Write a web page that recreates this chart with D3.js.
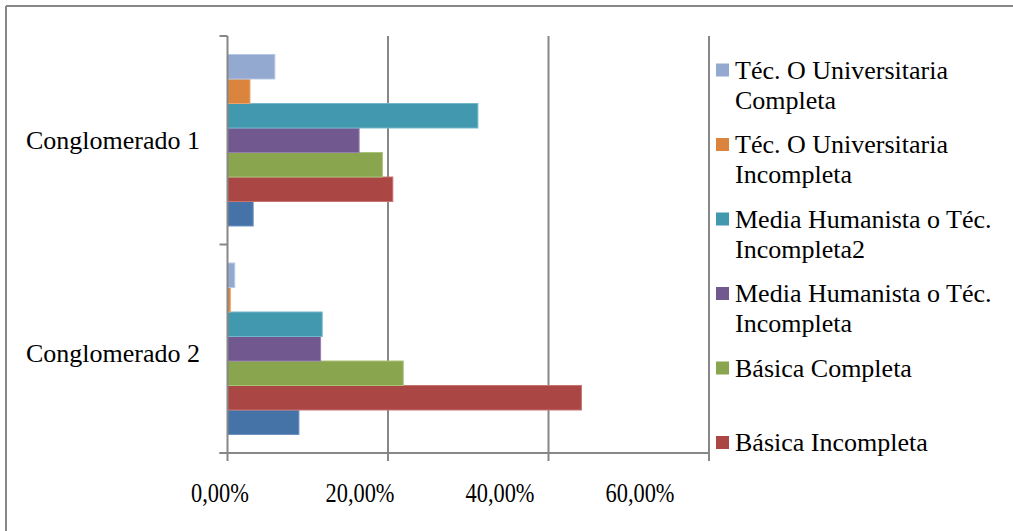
<!DOCTYPE html>
<html>
<head>
<meta charset="utf-8">
<script src="https://cdn.jsdelivr.net/npm/d3@7"></script>
<style>
  html, body { margin: 0; padding: 0; background: #fff; }
  svg { display: block; }
  text { font-family: "Liberation Serif", "Times New Roman", serif; fill: #000; }
</style>
</head>
<body>
<svg id="chart" width="1013" height="531"></svg>
<script>
// ---- data ----
const categories = ["Conglomerado 1", "Conglomerado 2"];
const seriesNames = [
  "Sin Estudios",
  "Básica Incompleta",
  "Básica Completa",
  "Media Humanista o Téc. Incompleta",
  "Media Humanista o Téc. Incompleta2",
  "Téc. O Universitaria Incompleta",
  "Téc. O Universitaria Completa"
];
const sinEstudios       = [0.032, 0.089];
const basicaIncompleta  = [0.206, 0.441];
const basicaCompleta    = [0.193, 0.219];
const mediaIncompleta   = [0.164, 0.116];
const mediaIncompleta2  = [0.312, 0.118];
const tecIncompleta     = [0.028, 0.0035];
const tecCompleta       = [0.059, 0.009];
const seriesValues = [sinEstudios, basicaIncompleta, basicaCompleta, mediaIncompleta,
                      mediaIncompleta2, tecIncompleta, tecCompleta];
const tickValues = [0, 0.2, 0.4, 0.6];
const tickLabels = ["0,00%", "20,00%", "40,00%", "60,00%"];
// legend (shown top to bottom; first series falls outside the visible legend)
const legendSeries = [6, 5, 4, 3, 2, 1];
const legendLines = [
  ["Téc. O Universitaria", "Completa"],
  ["Téc. O Universitaria", "Incompleta"],
  ["Media Humanista o Téc.", "Incompleta2"],
  ["Media Humanista o Téc.", "Incompleta"],
  ["Básica Completa"],
  ["Básica Incompleta"]
];

// ---- styles ----
const fills   = ["#4572A7", "#AA4643", "#89A54E", "#71588F", "#4198AF", "#DB843D", "#93A9CF"];
const strokes = ["#6F93C4", "#C97371", "#A9C278", "#957FB0", "#72B8CA", "#EBA46C", "#B7C8E6"];
const gray = "#878787";

const svg = d3.select("#chart");

// outer frame (top & left visible)
svg.append("line").attr("x1", 6).attr("x2", 1013).attr("y1", 6).attr("y2", 6)
  .attr("stroke", gray).attr("stroke-width", 2);
svg.append("line").attr("x1", 6).attr("x2", 6).attr("y1", 6).attr("y2", 531)
  .attr("stroke", gray).attr("stroke-width", 2);

const x = d3.scaleLinear().domain([0, 0.6]).range([227.5, 709]);
const y = d3.scaleBand().domain(categories).range([36, 453]).padding(0);
const yInner = d3.scaleBand()
  .domain(d3.range(seriesNames.length).reverse())
  .range([0, y.bandwidth()])
  .paddingInner(0)
  .paddingOuter(0.755);

// gridlines
svg.append("g").selectAll("line").data(tickValues.slice(1)).join("line")
  .attr("x1", d => x(d)).attr("x2", d => x(d))
  .attr("y1", 36).attr("y2", 453)
  .attr("stroke", gray).attr("stroke-width", 2);

// bars
const groups = svg.append("g").selectAll("g").data(categories).join("g")
  .attr("transform", c => `translate(0,${y(c)})`);
groups.each(function(c, ci) {
  d3.select(this).selectAll("rect")
    .data(seriesValues.map((vals, si) => ({si, v: vals[ci]})))
    .join("rect")
    .attr("x", x(0))
    .attr("y", d => yInner(d.si))
    .attr("width", d => x(d.v) - x(0))
    .attr("height", yInner.bandwidth())
    .attr("fill", d => fills[d.si])
    .attr("stroke", d => strokes[d.si])
    .attr("stroke-width", 1);
});

// y axis
const yAxisG = svg.append("g");
yAxisG.append("line").attr("x1", x(0)).attr("x2", x(0)).attr("y1", 36).attr("y2", 453)
  .attr("stroke", gray).attr("stroke-width", 2);
const yBounds = categories.map(c => y(c)).concat([y(categories[categories.length - 1]) + y.bandwidth()]);
yAxisG.selectAll("line.tick").data(yBounds).join("line").attr("class", "tick")
  .attr("x1", x(0) - 8).attr("x2", x(0)).attr("y1", d => d).attr("y2", d => d)
  .attr("stroke", gray).attr("stroke-width", 2);
yAxisG.selectAll("text").data(categories).join("text")
  .attr("x", 200).attr("y", (c, i) => y(c) + y.bandwidth() / 2 + i * 4)
  .attr("text-anchor", "end").attr("dy", "0.35em")
  .attr("font-size", 26)
  .text(c => c);

// x axis
const xAxisG = svg.append("g");
xAxisG.append("line").attr("x1", x(0) - 8).attr("x2", x(0.6)).attr("y1", 453).attr("y2", 453)
  .attr("stroke", gray).attr("stroke-width", 2);
xAxisG.selectAll("line.tick").data(tickValues).join("line").attr("class", "tick")
  .attr("x1", d => x(d)).attr("x2", d => x(d)).attr("y1", 453).attr("y2", 461)
  .attr("stroke", gray).attr("stroke-width", 2);
// label positions (labels sit slightly compressed toward the left in the reference)
const xl = d3.scaleLinear().domain(x.domain()).range([220, 640]);
xAxisG.selectAll("text").data(tickValues).join("text")
  .attr("transform", d => `translate(${xl(d)},502) scale(0.8,1)`)
  .attr("text-anchor", "middle")
  .attr("font-size", 28)
  .text((d, i) => tickLabels[i]);

// legend
const legend = svg.append("g");
legendSeries.forEach((si, i) => {
  const cy = 70 + i * 74.5;
  legend.append("rect").attr("x", 716).attr("y", cy - 6.5).attr("width", 13).attr("height", 13)
    .attr("fill", fills[si]);
  const t = legend.append("text").attr("font-size", 26);
  legendLines[i].forEach((line, li) => {
    t.append("tspan").attr("x", 735).attr("y", cy + 8.5 + li * 30).text(line);
  });
});
</script>
</body>
</html>
